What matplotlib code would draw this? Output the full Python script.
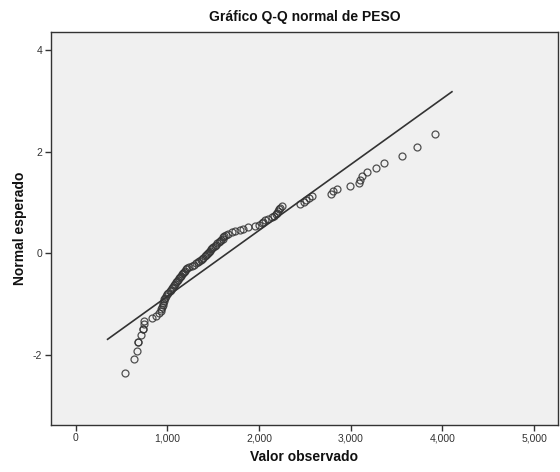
import matplotlib
matplotlib.use("Agg")
import matplotlib.pyplot as plt
import matplotlib.ticker as mticker
import numpy as np
import pandas as pd
from statistics import NormalDist

peso = [
    534, 636, 665, 676, 676, 716, 738, 738, 745, 750,
    836, 876, 912, 925, 935, 942, 950, 955, 960, 965,
    970, 980, 995, 1010, 1025, 1040, 1050, 1062, 1072, 1083,
    1093, 1104, 1116, 1125, 1135, 1148, 1158, 1168, 1178, 1190,
    1200, 1215, 1240, 1265, 1295, 1315, 1335, 1350, 1362, 1374,
    1390, 1405, 1420, 1432, 1443, 1455, 1462, 1475, 1488, 1500,
    1515, 1530, 1545, 1560, 1575, 1590, 1602, 1612, 1622, 1635,
    1660, 1700, 1740, 1790, 1830, 1880, 1956, 2000, 2029, 2045,
    2065, 2100, 2138, 2160, 2180, 2193, 2205, 2215, 2229, 2247,
    2443, 2495, 2516, 2545, 2577, 2788, 2806, 2853, 2995, 3090,
    3105, 3122, 3177, 3272, 3359, 3559, 3727, 3918,
]

# Reference line parameters
line_mean = 1650.0
line_sd = 770.0

x_ticks = [0, 1000, 2000, 3000, 4000, 5000]
y_ticks = [-2, 0, 2, 4]

title = "Gráfico Q-Q normal de PESO"
xlabel = "Valor observado"
ylabel = "Normal esperado"

# Expected normal values (Van der Waerden, averaged ranks for ties)
s = pd.Series(peso, dtype=float)
ranks = s.rank(method="average").to_numpy()
n = len(peso)
nd = NormalDist()
expected = np.array([nd.inv_cdf(r / (n + 1)) for r in ranks])

plt.rcParams["font.family"] = ["Liberation Sans", "DejaVu Sans"]

fig = plt.figure(figsize=(5.6, 4.72), dpi=100)
ax = fig.add_axes([0.0905, 0.0996, 0.9059, 0.8332])
ax.set_facecolor("#f0f0f0")

xmin, xmax = min(peso), max(peso)
ext = 0.055 * (xmax - xmin)
lx = np.array([xmin - ext, xmax + ext])
ly = (lx - line_mean) / line_sd
ax.plot(lx, ly, color="#333333", lw=1.2, zorder=2)

ax.plot(s.to_numpy(), expected, linestyle="none", marker="o", markersize=5,
        markerfacecolor="none", markeredgecolor="#333333", markeredgewidth=0.9,
        alpha=0.85, zorder=3)

ax.set_xlim(-273, 5261)
ax.set_ylim(-3.38, 4.37)
ax.set_xticks(x_ticks)
ax.set_yticks(y_ticks)
ax.xaxis.set_major_formatter(mticker.FuncFormatter(lambda v, p: f"{int(v):,}"))
ax.yaxis.set_major_formatter(mticker.FuncFormatter(lambda v, p: f"{int(v)}"))
ax.tick_params(axis="both", direction="out", length=4, width=1, color="#333333",
               labelsize=7.5, labelcolor="#333333", pad=2)
for sp in ax.spines.values():
    sp.set_color("#333333")
    sp.set_linewidth(1.0)

ax.set_title(title, fontsize=10, fontweight="bold", color="#111111", pad=8)
ax.set_xlabel(xlabel, fontsize=10, fontweight="bold", color="#111111", labelpad=5)
ax.set_ylabel(ylabel, fontsize=10, fontweight="bold", color="#111111", labelpad=4)

fig.savefig("out.png", dpi=100, facecolor="white")
